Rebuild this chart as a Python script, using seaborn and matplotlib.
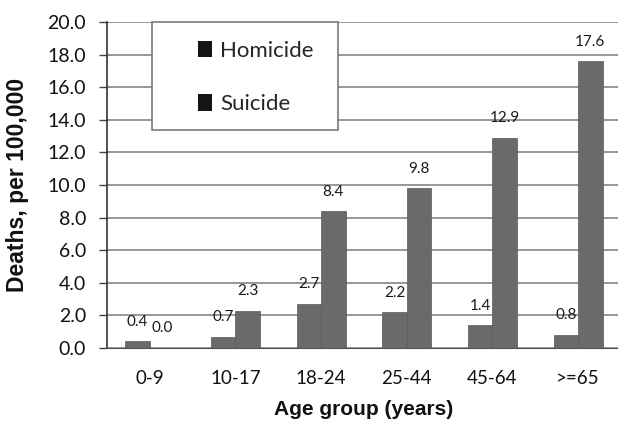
import numpy as np
import pandas as pd
import matplotlib.pyplot as plt
import seaborn as sns
from matplotlib.patches import Patch, Rectangle

# podaci sa grafika
age_groups = ['0-9', '10-17', '18-24', '25-44', '45-64', '>=65']
homicide = [0.4, 0.7, 2.7, 2.2, 1.4, 0.8]
suicide = [0.0, 2.3, 8.4, 9.8, 12.9, 17.6]
series = ['Homicide', 'Suicide']
yticks = np.arange(0, 20.1, 2)

df = pd.DataFrame({
    'age': age_groups * 2,
    'rate': homicide + suicide,
    'type': [series[0]] * 6 + [series[1]] * 6,
})

sns.set_style('white')
plt.rcParams['font.family'] = ['Lato', 'DejaVu Sans']

fig = plt.figure(figsize=(6.18, 4.33), dpi=100)
# desna ivica ose je malo izvan slike kao na originalu
ax = fig.add_axes([107/618, 85/433, 514/618, 326/433])

sns.barplot(data=df, x='age', y='rate', hue='type', ax=ax,
            palette=['#6a6a6a', '#6a6a6a'], width=0.57, saturation=1,
            edgecolor='#585858', linewidth=0.5, zorder=3, legend=False)

for cont in ax.containers:
    ax.bar_label(cont, fmt='%.1f', padding=9, fontsize=11, color='#1a1a1a')

ax.set_ylim(0, 20)
ax.set_xlim(-0.5, 5.5)
ax.set_yticks(yticks)
ax.set_yticklabels([f'{v:.1f}' for v in yticks], fontsize=14, color='#111111')
ax.tick_params(axis='x', labelsize=13.5, length=0, pad=16, labelcolor='#111111')
ax.tick_params(axis='y', left=True, length=6, width=1, color='#444444', pad=9)
ax.yaxis.grid(True, color='#858585', linewidth=1.2, zorder=0)
ax.set_axisbelow(True)

for s in ['top', 'right']:
    ax.spines[s].set_visible(False)
ax.spines['left'].set_color('#333333')
ax.spines['bottom'].set_color('#555555')
ax.spines['left'].set_linewidth(1.2)

ax.set_xlabel('Age group (years)', fontsize=15, fontweight='bold',
              family='Liberation Sans', labelpad=9, color='#111111')
ax.set_ylabel('Deaths, per 100,000', fontsize=16.5, fontweight='bold',
              family='Liberation Sans', labelpad=13, color='#111111')

# okvir legende
ax.add_patch(Rectangle((0.0875, 0.669), 0.362, 0.331, transform=ax.transAxes,
                       facecolor='white', edgecolor='#7a7a7a', linewidth=1.2,
                       zorder=4, clip_on=False))
handles = [Patch(facecolor='#151515', edgecolor='none', label=s) for s in series]
leg = ax.legend(handles=handles, loc='center left', bbox_to_anchor=(0.177, 0.83),
                fontsize=16, frameon=False, handlelength=0.64, handleheight=0.77,
                handletextpad=0.36, borderpad=0, labelspacing=1.5, borderaxespad=0)
leg.set_zorder(5)

fig.savefig('out.png', dpi=100)
